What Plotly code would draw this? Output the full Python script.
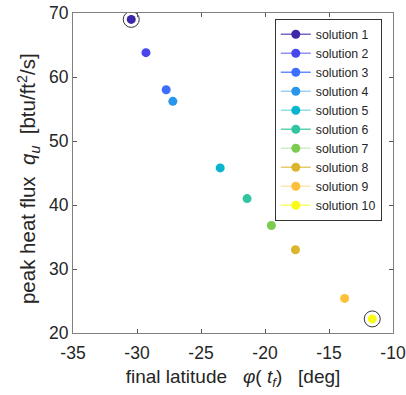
import plotly.graph_objects as go

names = [f"solution {i}" for i in range(1, 11)]
lat = [-30.45, -29.3, -27.72, -27.2, -23.5, -21.4, -19.5, -17.62, -13.78, -11.62]
qu = [69.0, 63.8, 58.0, 56.2, 45.8, 41.0, 36.8, 33.0, 25.4, 22.2]
colors = ["#3e26a8", "#4747eb", "#3e6ffc", "#2796ec", "#08b4d0", "#31c59f",
          "#7ccc52", "#dcb52c", "#fcc03a", "#f9fb15"]
line_colors = ["rgba(62,38,168,0.7)", "rgba(71,71,235,0.6)", "rgba(62,111,252,0.8)",
               "rgba(39,150,236,0.45)", "rgba(8,180,208,0.45)", "rgba(49,197,159,0.8)",
               "rgba(124,204,82,0.35)", "rgba(220,181,44,0.7)", "rgba(252,192,58,0.4)",
               "rgba(249,251,21,0.6)"]
highlight = [0, 9]
xticks = [-35, -30, -25, -20, -15, -10]
xticktext = ["-35", "-30", "-25", "-20", "-15", "-10"]
yticks = [20, 30, 40, 50, 60, 70]

fig = go.Figure()
for i in range(len(names)):
    fig.add_trace(go.Scatter(
        x=[lat[i]], y=[qu[i]], mode="lines+markers", name=names[i],
        line=dict(color=line_colors[i], width=1.5),
        marker=dict(color=colors[i], size=9),
    ))
fig.add_trace(go.Scatter(
    x=[lat[i] for i in highlight], y=[qu[i] for i in highlight], mode="markers",
    showlegend=False,
    marker=dict(symbol="circle-open", size=16, color="#333333", line=dict(width=1)),
))

nb = "&nbsp;"
axis_common = dict(showgrid=False, zeroline=False, showline=True, linecolor="#808080",
                   linewidth=1, mirror="ticks", ticks="inside", ticklen=4, automargin=False,
                   ticklabeloverflow="allow",
                   tickcolor="#555555", tickfont=dict(family="Liberation Sans, Arial", size=17.5, color="#262626"))
fig.update_layout(
    width=406, height=395,
    margin=dict(l=72.5, r=12.5, t=13.3, b=61.7),
    plot_bgcolor="white", paper_bgcolor="white",
    font=dict(family="Liberation Sans, Arial", color="#262626"),
    xaxis=dict(range=[-35, -10], tickvals=xticks, ticktext=xticktext, ticklabelstandoff=4,
               title=dict(text=f"final latitude{nb*3}<i>φ</i>(<i>{nb}t<sub>f</sub></i>){nb*3}[deg]",
                          font=dict(size=19), standoff=7),
               **axis_common),
    yaxis=dict(range=[20, 70], tickvals=yticks,
               title=dict(text=f"peak heat flux{nb*2}<i>q<sub>u</sub></i>{nb*2}[btu/ft<sup>2</sup>/s]{nb*2}",
                          font=dict(size=20.5), standoff=7),
               **axis_common),
    legend=dict(x=0.965, xanchor="right", y=0.982, yanchor="top",
                bgcolor="white", bordercolor="#333333", borderwidth=1,
                font=dict(size=12.3, color="#262626"), tracegroupgap=0),
)
fig.write_html("out.html", config={"displayModeBar": False},
               post_script="document.body.style.margin='0';")
